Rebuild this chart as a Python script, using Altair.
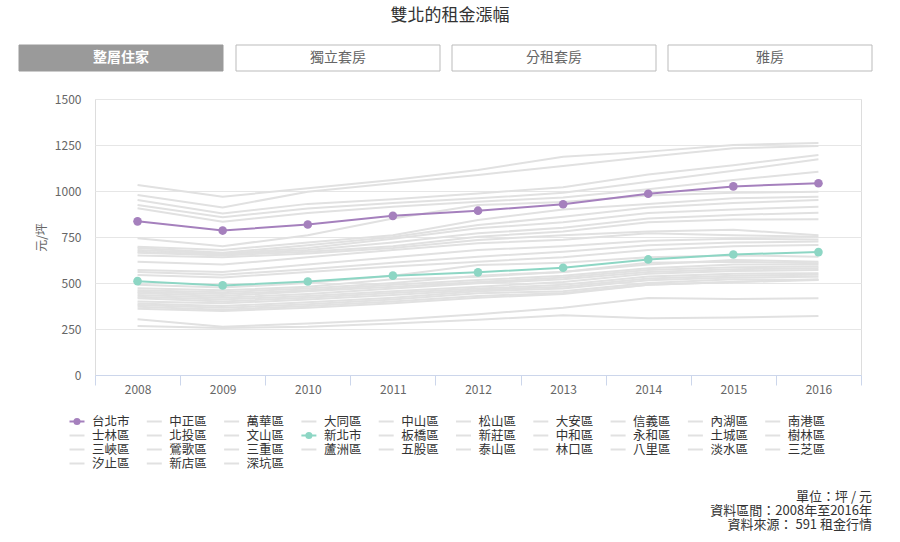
import altair as alt
import pandas as pd

# ---------------- data ----------------
years = ["2008", "2009", "2010", "2011", "2012", "2013", "2014", "2015", "2016"]

taipei_city = [835, 785, 818, 865, 893, 928, 985, 1025, 1042]
new_taipei_city = [510, 487, 508, 540, 558, 583, 628, 655, 668]

taipei_districts = {
    "大安區": [1033, 969, 1015, 1060, 1114, 1186, 1214, 1250, 1261],
    "中正區": [978, 911, 996, 1042, 1087, 1136, 1186, 1232, 1245],
    "信義區": [951, 878, 930, 955, 987, 1020, 1090, 1140, 1196],
    "松山區": [924, 857, 905, 935, 960, 990, 1050, 1110, 1172],
    "中山區": [906, 833, 880, 915, 942, 965, 1010, 1060, 1105],
    "內湖區": [743, 700, 760, 850, 924, 940, 975, 990, 996],
    "南港區": [697, 680, 720, 760, 842, 900, 930, 960, 969],
    "士林區": [690, 665, 705, 750, 815, 860, 910, 935, 951],
    "大同區": [679, 660, 690, 740, 797, 830, 880, 900, 915],
    "萬華區": [670, 655, 680, 720, 770, 800, 850, 870, 882],
    "北投區": [665, 650, 670, 700, 752, 780, 830, 845, 846],
    "文山區": [650, 640, 660, 690, 734, 760, 780, 790, 760],
}

new_taipei_districts = {
    "永和區": [616, 600, 640, 680, 716, 735, 770, 760, 752],
    "新店區": [571, 560, 600, 640, 679, 700, 730, 740, 737],
    "板橋區": [560, 545, 575, 610, 643, 670, 705, 720, 725],
    "中和區": [543, 530, 560, 590, 616, 640, 680, 700, 707],
    "三重區": [490, 475, 500, 540, 598, 610, 640, 650, 643],
    "新莊區": [471, 460, 480, 520, 534, 560, 600, 625, 616],
    "汐止區": [460, 450, 470, 500, 540, 560, 610, 615, 607],
    "蘆洲區": [453, 440, 460, 490, 516, 540, 580, 600, 600],
    "林口區": [445, 430, 455, 480, 505, 530, 570, 585, 589],
    "土城區": [435, 420, 440, 470, 498, 520, 560, 575, 580],
    "淡水區": [425, 410, 430, 455, 480, 505, 550, 565, 571],
    "五股區": [417, 400, 420, 445, 470, 490, 535, 550, 553],
    "泰山區": [400, 390, 410, 435, 462, 480, 525, 540, 545],
    "樹林區": [389, 375, 395, 420, 455, 470, 515, 530, 534],
    "深坑區": [380, 365, 385, 410, 444, 455, 500, 520, 516],
    "三峽區": [371, 355, 375, 400, 430, 445, 490, 505, 520],
    "鶯歌區": [360, 348, 365, 390, 420, 440, 490, 505, 516],
    "八里區": [303, 262, 280, 300, 330, 365, 418, 413, 417],
    "三芝區": [266, 255, 262, 280, 300, 325, 308, 313, 321],
}

legend_order = [
    "台北市", "中正區", "萬華區", "大同區", "中山區", "松山區", "大安區", "信義區", "內湖區", "南港區",
    "士林區", "北投區", "文山區", "新北市", "板橋區", "新莊區", "中和區", "永和區", "土城區", "樹林區",
    "三峽區", "鶯歌區", "三重區", "蘆洲區", "五股區", "泰山區", "林口區", "八里區", "淡水區", "三芝區",
    "汐止區", "新店區", "深坑區",
]

title_text = "雙北的租金漲幅"
button_labels = ["整層住家", "獨立套房", "分租套房", "雅房"]
notes = ["單位：坪 / 元", "資料區間：2008年至2016年", "資料來源： 591 租金行情"]
y_ticks = [0, 250, 500, 750, 1000, 1250, 1500]

# ---------------- tables ----------------
rows = []
for districts in (taipei_districts, new_taipei_districts):
    for name, vals in districts.items():
        for yr, v in zip(years, vals):
            rows.append({"name": name, "group": "區", "year": yr, "value": v})
for name, vals in (("台北市", taipei_city), ("新北市", new_taipei_city)):
    for yr, v in zip(years, vals):
        rows.append({"name": name, "group": name, "year": yr, "value": v})
df = pd.DataFrame(rows)

leg = pd.DataFrame({
    "name": legend_order,
    "col": [i % 10 for i in range(len(legend_order))],
    "row": [i // 10 for i in range(len(legend_order))],
    "group": [n if n in ("台北市", "新北市") else "區" for n in legend_order],
})

FONT = "Noto Sans CJK TC"
PURPLE = "#a580bd"
TEAL = "#8dd6c4"
GREY = "#e1e1e1"

color = alt.Color(
    "group:N",
    scale=alt.Scale(domain=["台北市", "新北市", "區"], range=[PURPLE, TEAL, GREY]),
    legend=None,
)

# plot area: x 95..861, y 99..375
W, H = 766, 276
PL, PT = 95, 99

x_enc = alt.X(
    "year:O",
    sort=years,
    scale=alt.Scale(type="band", paddingInner=0, paddingOuter=0),
    axis=alt.Axis(
        title=None, labelAngle=0, tickBand="extent", domainColor="#ccd6eb",
        tickColor="#ccd6eb", tickSize=10, labelColor="#666666", labelFontSize=12,
        labelPadding=-1, grid=False, labelFont=FONT,
    ),
)
y_enc = alt.Y(
    "value:Q",
    scale=alt.Scale(domain=[0, 1500], nice=False, zero=True),
    axis=alt.Axis(
        values=y_ticks, format="d", title="元/坪", grid=True, gridColor="#e6e6e6", domain=False,
        ticks=False, labelPadding=14, labelColor="#666666", labelFontSize=12,
        titleColor="#666666", titleFontSize=12, titleFontWeight="normal",
        titlePadding=6, labelFont=FONT, titleFont=FONT,
    ),
)

base = alt.Chart(df)
grey_lines = base.transform_filter(alt.datum.group == "區").mark_line(strokeWidth=2).encode(
    x=x_enc, y=y_enc, detail="name:N", color=color
)
city = base.transform_filter(alt.datum.group != "區")
city_lines = city.mark_line(strokeWidth=2).encode(x=x_enc, y=y_enc, detail="name:N", color=color)
city_pts = city.mark_point(filled=True, size=75, opacity=1).encode(x=x_enc, y=y_enc, color=color)

main = alt.layer(grey_lines, city_lines, city_pts)

# ---------------- custom legend ----------------
lx = alt.X("col:Q", scale=alt.Scale(domain=[0, 10], range=[-18, 755]), axis=None)
ly = alt.Y("row:Q", scale=alt.Scale(domain=[0, 4], range=[322.5, 378.5]), axis=None)
lbase = alt.Chart(leg)
leg_sym = lbase.mark_point(shape="stroke", size=225, strokeWidth=2, filled=False, opacity=1).encode(
    x=lx, y=ly, color=color
)
leg_dot = lbase.transform_filter(alt.datum.group != "區").mark_point(
    filled=True, size=50, opacity=1
).encode(x=lx, y=ly, color=color)
leg_txt = lbase.mark_text(align="left", baseline="middle", dx=15, fontSize=12.5, color="#333333", font=FONT).encode(
    x=lx, y=ly, text="name:N"
)
legend = alt.layer(leg_sym, leg_dot, leg_txt)

# ---------------- decorations ----------------
decor = []
decor.append(
    alt.Chart(pd.DataFrame({"t": [title_text]})).mark_text(
        align="center", baseline="middle", fontSize=17, color="#333333", font=FONT
    ).encode(x=alt.value(450 - PL), y=alt.value(16 - PT), text="t:N")
)

btn_left = [19, 236, 452, 668]
btn_w = 204
for i, lab in enumerate(button_labels):
    active = i == 0
    d = pd.DataFrame({"t": [lab]})
    x0 = btn_left[i] - PL
    decor.append(
        alt.Chart(d).mark_rect(
            fill="#9a9a9a" if active else "#ffffff",
            stroke="#9a9a9a" if active else "#bbbbbb",
            strokeWidth=1,
        ).encode(x=alt.value(x0), x2=alt.value(x0 + btn_w), y=alt.value(45 - PT), y2=alt.value(71 - PT))
    )
    decor.append(
        alt.Chart(d).mark_text(
            align="center", baseline="middle", fontSize=14,
            color="#ffffff" if active else "#666666",
            fontWeight="bold" if active else "normal", font=FONT,
        ).encode(x=alt.value(x0 + btn_w / 2), y=alt.value(58 - PT), text="t:N")
    )

for j, note in enumerate(notes):
    decor.append(
        alt.Chart(pd.DataFrame({"t": [note]})).mark_text(
            align="right", baseline="middle", fontSize=13, color="#333333", font=FONT
        ).encode(x=alt.value(872 - PL), y=alt.value(497 - PT + 14 * j), text="t:N")
    )

chart = (
    alt.layer(main, legend, *decor)
    .resolve_scale(x="independent", y="independent")
    .properties(
        width=W,
        height=H,
        autosize=alt.AutoSizeParams(type="none"),
        padding={"left": PL, "top": PT, "right": 900 - PL - W, "bottom": 542 - PT - H},
        background="#ffffff",
    )
    .configure_view(stroke=None)
    .configure(font=FONT)
)

chart.save("out.html", embed_options={"renderer": "svg", "actions": False})
